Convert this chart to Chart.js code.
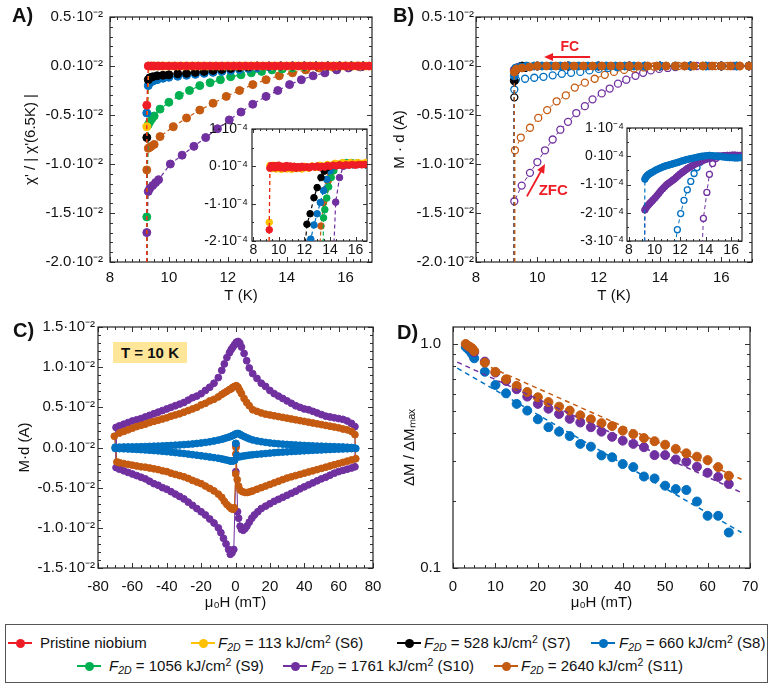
<!DOCTYPE html>
<html><head><meta charset="utf-8">
<script src="https://cdn.jsdelivr.net/npm/chart.js@4.4.1/dist/chart.umd.min.js"></script>
<style>
html,body{margin:0;padding:0;background:#fff}
body{width:774px;height:693px;position:relative;overflow:hidden;font-family:'Liberation Sans',Arial,sans-serif;color:#111}
canvas{position:absolute;display:block}
.pl{position:absolute;font-weight:bold;font-size:20px;line-height:20px}
#tbox{position:absolute;left:113px;top:342px;width:74px;height:21px;background:#ffe699;font-weight:bold;font-size:15px;line-height:21px;text-align:center}
#legend{position:absolute;left:5px;top:624px;width:763px;height:59px;border:1.5px solid #555;box-sizing:border-box}
.li{position:absolute;font-size:15px;line-height:18px;white-space:nowrap}
.li sub{font-size:70%;vertical-align:-0.25em;line-height:0}
.li sup{font-size:70%;vertical-align:0.45em;line-height:0}
.ll{position:absolute;height:2px}
.ld{position:absolute;width:9px;height:9px;border-radius:50%}
</style></head><body>
<canvas id="cA" width="387" height="320" style="left:0;top:0"></canvas>
<canvas id="cB" width="387" height="320" style="left:387px;top:0"></canvas>
<canvas id="cC" width="387" height="300" style="left:0;top:320px"></canvas>
<canvas id="cD" width="387" height="300" style="left:387px;top:320px"></canvas>
<canvas id="iA" width="185" height="142" style="left:195px;top:122px"></canvas>
<canvas id="iB" width="185" height="142" style="left:572px;top:121px"></canvas>
<div class="pl" style="left:12px;top:5px">A)</div>
<div class="pl" style="left:393px;top:5px">B)</div>
<div class="pl" style="left:13px;top:320px">C)</div>
<div class="pl" style="left:397px;top:322px">D)</div>
<div id="tbox">T = 10 K</div>
<div id="legend"></div>
<script>
// ---------------- DATA ----------------
// Panel A main: T (K), chi'/|chi'(6.5K)| in units of 10^-2
const aRed = [[9.22,-100],[9.25,-0.40],[9.3,0],[9.4,0],[9.5,0],[9.65,0],[9.8,0],[10.0,0],[10.2,0],[10.4,0],[10.6,0],[10.8,0],[11.0,0],[11.2,0],[11.4,0],[11.6,0],[11.8,0],[12.0,0],[12.2,0],[12.4,0],[12.6,0],[12.8,0],[13.0,0],[13.2,0],[13.4,0],[13.6,0],[13.8,0],[14.0,0],[14.2,0],[14.4,0],[14.6,0],[14.8,0],[15.0,0],[15.2,0],[15.4,0],[15.6,0],[15.8,0],[16.0,0],[16.2,0],[16.4,0],[16.6,0],[16.8,0]];
const aYellow = [[9.22,-100],[9.25,-0.62],[9.32,0],[9.45,0],[9.6,0],[9.75,0],[9.9,0],[10.1,0],[10.3,0],[10.5,0],[10.7,0],[10.9,0],[11.1,0],[11.3,0],[11.5,0],[11.7,0],[11.9,0],[12.1,0],[12.3,0],[12.5,0],[12.7,0],[12.9,0],[13.1,0],[13.3,0],[13.5,0],[13.7,0],[13.9,0],[14.1,0],[14.3,0],[14.5,0],[14.7,0],[14.9,0],[15.1,0],[15.3,0],[15.5,0],[15.7,0],[15.9,0],[16.1,0],[16.3,0],[16.5,0],[16.7,0],[16.9,0]];
const aBlack = [[9.22,-100],[9.25,-0.73],[9.3,-0.14],[9.35,-0.12],[9.45,-0.11],[9.6,-0.1],[9.8,-0.095],[10.0,-0.09],[10.3,-0.08],[10.6,-0.075],[10.9,-0.065],[11.2,-0.055],[11.5,-0.045],[11.8,-0.035],[12.1,-0.025],[12.4,-0.015],[12.7,-0.01],[13.0,0],[13.4,0],[13.8,0],[14.2,0],[14.6,0],[15.0,0],[15.4,0],[15.8,0],[16.2,0],[16.6,0],[16.9,0]];
const aBlue = [[9.22,-100],[9.25,-0.48],[9.3,-0.2],[9.35,-0.17],[9.45,-0.155],[9.6,-0.14],[9.8,-0.125],[10.0,-0.115],[10.3,-0.105],[10.6,-0.095],[10.9,-0.085],[11.2,-0.075],[11.5,-0.065],[11.8,-0.055],[12.1,-0.045],[12.4,-0.035],[12.7,-0.025],[13.0,-0.02],[13.4,-0.01],[13.8,0],[14.2,0],[14.6,0],[15.0,0],[15.4,0],[15.8,0],[16.2,0],[16.6,0],[16.9,0]];
const aGreen = [[9.22,-100],[9.25,-1.54],[9.3,-0.6],[9.35,-0.57],[9.42,-0.54],[9.5,-0.51],[9.7,-0.44],[10.0,-0.37],[10.35,-0.3],[10.7,-0.25],[11.05,-0.2],[11.4,-0.17],[11.75,-0.14],[12.1,-0.11],[12.45,-0.09],[12.8,-0.07],[13.15,-0.055],[13.5,-0.04],[13.85,-0.03],[14.2,-0.02],[14.6,-0.01],[15.0,0],[15.4,0],[15.8,0],[16.2,0],[16.6,0],[16.9,0]];
const aBrown = [[9.22,-100],[9.25,-1.06],[9.3,-0.84],[9.35,-0.83],[9.4,-0.82],[9.5,-0.8],[9.7,-0.72],[10.15,-0.62],[10.6,-0.53],[11.05,-0.45],[11.5,-0.38],[11.95,-0.31],[12.4,-0.25],[12.85,-0.19],[13.3,-0.14],[13.75,-0.1],[14.2,-0.07],[14.65,-0.04],[15.1,-0.02],[15.55,-0.01],[16.0,0],[16.45,0],[16.9,0]];
const aPurple = [[9.22,-100],[9.25,-1.7],[9.3,-1.28],[9.35,-1.25],[9.45,-1.22],[9.55,-1.19],[9.65,-1.16],[10.05,-1.0],[10.45,-0.91],[10.85,-0.82],[11.25,-0.73],[11.65,-0.64],[12.05,-0.55],[12.45,-0.47],[12.85,-0.39],[13.3,-0.31],[13.7,-0.25],[14.1,-0.19],[14.5,-0.14],[14.9,-0.1],[15.3,-0.07],[15.7,-0.04],[16.1,-0.02],[16.5,-0.01],[16.9,0]];
// Panel A inset: units of 10^-4
const iaRed = [[9.2,-5],[9.25,-1.7],[9.3,-0.05],[9.4,0.02],[9.5,-0.03],[9.6,0.01],[9.7,-0.04],[9.8,0.02],[9.9,-0.02],[10.0,0.03],[10.15,-0.04],[10.3,0.0],[10.45,-0.05],[10.6,0.02],[10.75,-0.03],[10.9,0.01],[11.05,-0.04],[11.2,0.0],[11.35,-0.05],[11.5,-0.01],[11.65,-0.04],[11.8,0.0],[12.0,-0.03],[12.2,-0.01],[12.4,-0.04],[12.6,0.0],[12.8,-0.02],[13.0,0.01],[13.2,-0.03],[13.4,0.0],[13.6,-0.02],[13.8,0.02],[14.0,0.0],[14.25,0.03],[14.5,0.01],[14.75,0.04],[15.0,0.02],[15.25,0.04],[15.5,0.03],[15.75,0.05],[16.0,0.03],[16.25,0.05],[16.5,0.04],[16.75,0.05]];
const iaYellow = [[9.2,-5],[9.25,-1.5],[9.3,0.02],[9.45,-0.06],[9.6,0.03],[9.8,-0.07],[10.0,0.02],[10.2,-0.08],[10.4,0.0],[10.6,-0.07],[10.8,-0.02],[11.0,-0.08],[11.2,0.0],[11.4,-0.06],[11.6,-0.02],[11.8,-0.07],[12.0,0.0],[12.3,-0.05],[12.6,0.01],[12.9,-0.03],[13.2,0.03],[13.5,0.0],[13.8,0.05],[14.1,0.03],[14.4,0.08],[14.7,0.06],[15.0,0.1],[15.3,0.07],[15.6,0.1],[15.9,0.08],[16.2,0.1],[16.5,0.08],[16.8,0.1]];
const iaBlack = [[11.95,-2.6],[12.2,-1.55],[12.45,-1.27],[12.75,-0.84],[13.0,-0.57],[13.3,-0.3],[13.55,-0.13],[13.8,-0.03],[14.1,0.02],[14.4,0.04],[14.8,0.05],[15.2,0.05],[15.6,0.06],[16.0,0.05],[16.4,0.06],[16.8,0.05]];
const iaBlue = [[12.35,-2.6],[12.5,-1.95],[12.75,-1.57],[13.0,-1.27],[13.25,-0.97],[13.5,-0.65],[13.75,-0.35],[14.0,-0.12],[14.3,0.0],[14.6,0.03],[15.0,0.04],[15.4,0.05],[15.8,0.04],[16.2,0.05],[16.8,0.04]];
const iaGreen = [[13.45,-2.6],[13.5,-1.38],[13.6,-1.16],[13.75,-0.85],[13.9,-0.55],[14.1,-0.3],[14.3,-0.12],[14.55,0.02],[14.9,0.08],[15.3,0.1],[15.7,0.1],[16.1,0.09],[16.8,0.08]];
const iaBrown = [[13.15,-2.6],[13.3,-1.6],[13.5,-0.97],[13.65,-0.62],[13.85,-0.4],[14.05,-0.2],[14.3,-0.05],[14.6,0.03],[15.0,0.06],[15.4,0.08],[15.8,0.08],[16.2,0.08],[16.8,0.07]];
const iaPurple = [[14.25,-2.6],[14.45,-0.96],[14.75,-0.3],[15.05,0.0],[15.4,0.04],[15.8,0.05],[16.2,0.05],[16.8,0.05]];
// Panel B main: T (K), M·d in units of 10^-2 A; FC = filled, ZFC = open
const bBrownFC = [[9.22,-100],[9.25,-0.06],[9.32,-0.03],[9.5,-0.02],[9.75,-0.01],[10.0,0],[10.3,0],[10.6,0],[10.9,0],[11.2,0],[11.5,0],[11.8,0],[12.1,0],[12.4,0],[12.7,0],[13.0,0],[13.3,0],[13.6,0],[13.9,0],[14.2,0],[14.5,0],[14.8,0],[15.1,0],[15.4,0],[15.7,0],[16.0,0],[16.3,0],[16.6,0],[16.9,0]];
const bBlueFC = [[9.22,-100],[9.25,-0.1],[9.3,-0.02],[9.45,-0.01],[9.65,0],[9.9,0],[10.15,0],[10.45,0],[10.75,0],[11.05,0],[11.35,0],[11.65,0],[11.95,0],[12.25,0],[12.55,0],[12.85,0],[13.15,0],[13.5,0],[14.0,0],[14.5,0],[15.0,0],[15.5,0],[16.0,0],[16.5,0],[16.9,0]];
const bBlackFC = [[9.22,-100],[9.25,-0.15],[9.3,-0.03],[9.5,0],[10.0,0],[11.0,0],[12.0,0],[13.0,0],[14.0,0],[15.0,0],[16.0,0],[16.9,0]];
const bPurpleFC = [[9.22,-100],[9.25,-0.04],[9.4,-0.01],[10.0,0],[11.0,0],[12.0,0],[13.0,0],[14.0,0],[15.0,0],[16.0,0],[16.9,0]];
const bBlackZFC = [[9.22,-100],[9.25,-0.32],[9.3,-0.05],[9.6,-0.02],[10.0,0],[11.0,0],[12.0,0],[13.0,0],[14.0,0],[15.0,0],[16.0,0],[16.9,0]];
const bBlueZFC = [[9.22,-100],[9.25,-0.24],[9.3,-0.14],[9.6,-0.13],[9.9,-0.12],[10.2,-0.11],[10.5,-0.095],[10.8,-0.08],[11.1,-0.07],[11.4,-0.06],[11.7,-0.045],[12.0,-0.03],[12.3,-0.02],[12.6,-0.01],[13.0,0],[13.5,0],[14.0,0],[14.5,0],[15.0,0],[15.5,0],[16.0,0],[16.5,0]];
const bBrownZFC = [[9.22,-100],[9.27,-0.86],[9.46,-0.73],[9.76,-0.63],[10.03,-0.53],[10.32,-0.45],[10.63,-0.36],[10.93,-0.3],[11.22,-0.22],[11.55,-0.17],[11.87,-0.13],[12.2,-0.09],[12.5,-0.06],[12.83,-0.04],[13.15,-0.025],[13.48,-0.015],[13.8,-0.005],[14.2,0],[14.6,0],[15.0,0],[15.4,0],[15.8,0],[16.2,0],[16.6,0]];
const bPurpleZFC = [[9.22,-100],[9.25,-1.38],[9.49,-1.22],[9.76,-1.09],[10.0,-0.98],[10.25,-0.86],[10.5,-0.75],[10.75,-0.65],[11.0,-0.57],[11.27,-0.48],[11.55,-0.41],[11.8,-0.34],[12.1,-0.28],[12.36,-0.23],[12.63,-0.18],[12.9,-0.14],[13.2,-0.1],[13.45,-0.07],[13.7,-0.045],[13.97,-0.03],[14.25,-0.02],[14.5,-0.01],[14.8,0],[15.2,0],[15.6,0],[16.0,0],[16.4,0]];
// Panel B inset: units of 10^-4 A
const ibBlueFC = [[9.2,-5],[9.25,-0.81],[9.33,-0.74],[9.42,-0.69],[9.52,-0.65],[9.62,-0.62],[9.72,-0.59],[9.85,-0.56],[10.0,-0.52],[10.15,-0.48],[10.3,-0.45],[10.45,-0.42],[10.6,-0.39],[10.75,-0.36],[10.9,-0.34],[11.05,-0.32],[11.2,-0.3],[11.35,-0.28],[11.5,-0.26],[11.65,-0.24],[11.8,-0.22],[11.95,-0.2],[12.13,-0.17],[12.3,-0.15],[12.5,-0.12],[12.7,-0.1],[12.9,-0.08],[13.1,-0.06],[13.3,-0.04],[13.5,-0.02],[13.7,0.0],[13.9,0.01],[14.1,0.02],[14.3,0.03],[14.5,0.02],[14.7,0.01],[14.9,0.0],[15.1,-0.01],[15.3,-0.02],[15.5,-0.03],[15.7,-0.04],[15.9,-0.05],[16.1,-0.05],[16.3,-0.06],[16.5,-0.06],[16.7,-0.05]];
const ibPurpleFC = [[9.2,-5],[9.25,-1.9],[9.35,-1.82],[9.45,-1.76],[9.55,-1.71],[9.65,-1.66],[9.78,-1.6],[9.9,-1.54],[10.05,-1.47],[10.2,-1.39],[10.35,-1.31],[10.5,-1.22],[10.65,-1.15],[10.8,-1.08],[10.95,-1.01],[11.1,-0.96],[11.25,-0.91],[11.4,-0.86],[11.55,-0.81],[11.7,-0.75],[11.85,-0.69],[12.0,-0.63],[12.15,-0.58],[12.3,-0.53],[12.45,-0.48],[12.6,-0.43],[12.75,-0.39],[12.9,-0.35],[13.05,-0.31],[13.2,-0.27],[13.35,-0.24],[13.5,-0.21],[13.7,-0.17],[13.9,-0.13],[14.1,-0.1],[14.3,-0.08],[14.5,-0.05],[14.7,-0.03],[14.9,-0.01],[15.1,0.0],[15.3,0.01],[15.5,0.02],[15.7,0.03],[15.9,0.03],[16.1,0.04],[16.3,0.04],[16.5,0.03],[16.7,0.03]];
const ibBlueZFC = [[11.5,-3.6],[11.79,-2.6],[12.05,-2.03],[12.31,-1.56],[12.57,-1.19],[12.84,-0.89],[13.1,-0.61],[13.33,-0.4],[13.57,-0.21],[13.9,-0.08],[14.2,-0.02],[14.5,0.0],[14.9,0.01],[15.3,0.0],[15.7,0.0],[16.1,-0.01],[16.5,0.0]];
const ibPurpleZFC = [[13.7,-3.6],[13.83,-2.2],[14.1,-1.28],[14.3,-0.64],[14.55,-0.26],[14.8,-0.08],[15.1,0.0],[15.5,0.02],[15.9,0.02],[16.3,0.02],[16.7,0.02]];
// Panel C: mu0H (mT), M·d in units of 10^-2 A (loop order)
const cBlue = [[0.2,0.05],[0.8,-0.1],[1.5,-0.115],[2.5,-0.115],[3.5,-0.11],[5,-0.105],[6.5,-0.1],[8,-0.095],[10,-0.09],[12.5,-0.085],[15,-0.08],[17.5,-0.075],[20,-0.07],[22.5,-0.065],[25,-0.06],[27.5,-0.057],[30,-0.054],[32.5,-0.05],[35,-0.047],[37.5,-0.044],[40,-0.041],[42.5,-0.038],[45,-0.035],[47.5,-0.032],[50,-0.03],[52.5,-0.027],[55,-0.025],[57.5,-0.022],[60,-0.02],[62.5,-0.018],[65,-0.016],[67.5,-0.014],[70,-0.012],
 [69,-0.005],[67.5,0.0],[65,0.003],[62.5,0.006],[60,0.008],[57.5,0.01],[55,0.012],[52.5,0.014],[50,0.016],[47.5,0.018],[45,0.02],[42.5,0.022],[40,0.025],[37.5,0.028],[35,0.031],[32.5,0.034],[30,0.038],[27.5,0.042],[25,0.046],[22.5,0.051],[20,0.057],[17.5,0.064],[15,0.072],[12.5,0.082],[10,0.094],[8,0.108],[6.5,0.122],[5,0.137],[3.5,0.152],[2.5,0.165],[1.5,0.175],[0.5,0.172],[-0.5,0.16],[-1.5,0.15],[-2.5,0.14],[-3.5,0.132],[-5,0.122],[-6.5,0.112],[-8,0.102],[-10,0.092],[-12.5,0.081],[-15,0.071],[-17.5,0.063],[-20,0.056],[-22.5,0.05],[-25,0.044],[-27.5,0.04],[-30,0.036],[-32.5,0.032],[-35,0.029],[-37.5,0.026],[-40,0.023],[-42.5,0.02],[-45,0.018],[-47.5,0.016],[-50,0.014],[-52.5,0.012],[-55,0.01],[-57.5,0.009],[-60,0.008],[-62.5,0.007],[-65,0.006],[-67.5,0.005],[-70,0.004],
 [-70,-0.012],[-67.5,-0.014],[-65,-0.016],[-62.5,-0.018],[-60,-0.021],[-57.5,-0.024],[-55,-0.027],[-52.5,-0.03],[-50,-0.034],[-47.5,-0.038],[-45,-0.042],[-42.5,-0.047],[-40,-0.052],[-37.5,-0.057],[-35,-0.063],[-32.5,-0.069],[-30,-0.075],[-27.5,-0.082],[-25,-0.089],[-22.5,-0.096],[-20,-0.103],[-17.5,-0.11],[-15,-0.118],[-12.5,-0.126],[-10,-0.134],[-8,-0.142],[-6.5,-0.15],[-5,-0.157],[-3.5,-0.165],[-2.5,-0.17],[-1.5,-0.168],[-0.5,-0.16],[0.2,0.05]];
const cBrown = [[0.3,0.0],[1.0,-0.4],[1.8,-0.48],[2.7,-0.53],[4,-0.55],[5.6,-0.56],[7,-0.56],[8.6,-0.55],[10,-0.54],[12.5,-0.52],[15,-0.5],[17.5,-0.48],[20,-0.46],[22.5,-0.44],[25,-0.42],[27.5,-0.4],[30,-0.38],[32.5,-0.365],[35,-0.35],[37.5,-0.335],[40,-0.32],[42.5,-0.305],[45,-0.29],[47.5,-0.275],[50,-0.26],[52.5,-0.245],[55,-0.23],[57.5,-0.215],[60,-0.2],[62.5,-0.185],[65,-0.17],[67.5,-0.155],[70,-0.14],
 [69.5,0.16],[67.5,0.2],[65,0.22],[62.5,0.23],[60,0.245],[57.5,0.255],[55,0.265],[52.5,0.275],[50,0.285],[47.5,0.295],[45,0.305],[42.5,0.315],[40,0.325],[37.5,0.335],[35,0.345],[32.5,0.355],[30,0.365],[27.5,0.375],[25,0.385],[22.5,0.395],[20,0.405],[17.5,0.415],[15,0.43],[12.5,0.45],[10,0.47],[8,0.52],[6.5,0.56],[5,0.61],[3.5,0.67],[2.5,0.71],[1.5,0.75],[0.5,0.77],[-0.5,0.76],[-1.5,0.75],[-2.5,0.73],[-3.5,0.72],[-5,0.7],[-6.5,0.68],[-8,0.66],[-10,0.63],[-12.5,0.6],[-15,0.58],[-17.5,0.55],[-20,0.53],[-22.5,0.5],[-25,0.48],[-27.5,0.46],[-30,0.44],[-32.5,0.42],[-35,0.405],[-37.5,0.39],[-40,0.37],[-42.5,0.355],[-45,0.34],[-47.5,0.325],[-50,0.31],[-52.5,0.29],[-55,0.275],[-57.5,0.26],[-60,0.24],[-62.5,0.22],[-65,0.2],[-67.5,0.18],[-70.5,0.14],
 [-69,-0.18],[-67.5,-0.19],[-65,-0.2],[-62.5,-0.21],[-60,-0.22],[-57.5,-0.23],[-55,-0.24],[-52.5,-0.245],[-50,-0.255],[-47.5,-0.265],[-45,-0.275],[-42.5,-0.29],[-40,-0.3],[-37.5,-0.32],[-35,-0.335],[-32.5,-0.35],[-30,-0.365],[-27.5,-0.385],[-25,-0.41],[-22.5,-0.43],[-20,-0.45],[-17.5,-0.48],[-15,-0.51],[-12.5,-0.54],[-10,-0.58],[-8,-0.62],[-6.5,-0.67],[-5,-0.71],[-3.5,-0.74],[-2.5,-0.76],[-1.5,-0.77],[-0.7,-0.75],[0.1,-0.33],[0.2,-0.08]];
const cPurple = [[0.3,0.02],[1.2,-0.8],[1.8,-0.88],[2.7,-0.98],[3.5,-1.02],[4.5,-1.03],[5.5,-1.01],[6.6,-0.98],[8,-0.93],[9.5,-0.88],[11,-0.84],[13,-0.8],[15,-0.76],[17.5,-0.73],[20,-0.7],[22.5,-0.67],[25,-0.645],[27.5,-0.62],[30,-0.595],[32.5,-0.57],[35,-0.545],[37.5,-0.515],[40,-0.49],[42.5,-0.465],[45,-0.44],[47.5,-0.415],[50,-0.39],[52.5,-0.37],[55,-0.345],[57.5,-0.32],[60,-0.3],[62.5,-0.285],[65,-0.27],[67.5,-0.255],[69.5,-0.24],
 [69.5,0.26],[67.5,0.3],[65,0.33],[62.5,0.35],[60,0.36],[57.5,0.37],[55,0.38],[52.5,0.39],[50,0.41],[47.5,0.43],[45,0.45],[42.5,0.47],[40,0.48],[37.5,0.5],[35,0.52],[32.5,0.55],[30,0.58],[27.5,0.61],[25,0.64],[22.5,0.67],[20,0.71],[17.5,0.76],[15,0.8],[12.5,0.86],[10,0.92],[8,0.99],[6.5,1.08],[5,1.17],[3.5,1.25],[2.5,1.3],[1.5,1.32],[0.5,1.31],[-0.5,1.28],[-1.5,1.25],[-2.5,1.22],[-3.5,1.18],[-5,1.12],[-6.5,1.04],[-8,0.96],[-10,0.87],[-12.5,0.8],[-15,0.75],[-17.5,0.71],[-20,0.67],[-22.5,0.64],[-25,0.62],[-27.5,0.59],[-30,0.56],[-32.5,0.54],[-35,0.52],[-37.5,0.5],[-40,0.48],[-42.5,0.46],[-45,0.44],[-47.5,0.42],[-50,0.4],[-52.5,0.38],[-55,0.36],[-57.5,0.345],[-60,0.33],[-62.5,0.31],[-65,0.29],[-67.5,0.27],[-69.5,0.25],
 [-69.5,-0.25],[-67.5,-0.27],[-65,-0.29],[-62.5,-0.31],[-60,-0.33],[-57.5,-0.35],[-55,-0.37],[-52.5,-0.39],[-50,-0.42],[-47.5,-0.45],[-45,-0.47],[-42.5,-0.5],[-40,-0.52],[-37.5,-0.55],[-35,-0.58],[-32.5,-0.61],[-30,-0.64],[-27.5,-0.68],[-25,-0.72],[-22.5,-0.76],[-20,-0.8],[-17.5,-0.84],[-15,-0.89],[-12.5,-0.94],[-10,-1.0],[-8.5,-1.06],[-7,-1.13],[-5.5,-1.2],[-4,-1.27],[-3,-1.33],[-2,-1.31],[-1,-1.27],[0.2,-0.3]];
// Panel D: mu0H (mT), ΔM/ΔMmax (log)
const dBrown = [[3.0,1.0],[3.5,0.98],[4.0,0.97],[4.5,0.955],[5.0,0.93],[7.5,0.825],[10,0.75],[12.5,0.695],[15,0.65],[17.5,0.61],[20,0.578],[22.5,0.55],[25,0.525],[27.5,0.504],[30,0.48],[32.5,0.461],[35,0.443],[37.5,0.43],[40,0.41],[42.5,0.396],[45,0.38],[47.5,0.368],[50,0.355],[52.5,0.34],[55,0.325],[57.5,0.314],[60,0.303],[62.5,0.282],[65,0.258]];
const dPurple = [[3.5,0.98],[4.0,0.965],[4.5,0.95],[5.0,0.92],[7.5,0.834],[10,0.745],[12.5,0.684],[15,0.628],[17.5,0.582],[20,0.54],[22.5,0.514],[25,0.487],[27.5,0.463],[30,0.446],[32.5,0.425],[35,0.406],[37.5,0.385],[40,0.37],[42.5,0.358],[45,0.346],[47.5,0.319],[50,0.319],[52.5,0.305],[55,0.298],[57.5,0.283],[60,0.266],[62.5,0.255],[65,0.237]];
const dBlue = [[3.0,0.97],[3.5,0.95],[4.0,0.93],[4.5,0.9],[5.0,0.863],[7.5,0.751],[10,0.656],[12.5,0.602],[15,0.54],[17.5,0.504],[20,0.461],[22.5,0.425],[25,0.406],[27.5,0.388],[30,0.358],[32.5,0.348],[35,0.318],[37.5,0.312],[40,0.291],[42.5,0.282],[45,0.256],[47.5,0.251],[50,0.233],[52.5,0.225],[55,0.223],[57.5,0.198],[60,0.171],[62.5,0.171],[65,0.144]];
const dFitBrown = [[7,0.815],[68,0.249]];
const dFitPurple = [[1,0.83],[68,0.217]];
const dFitBlue = [[1,0.78],[68,0.144]];
// Tick values
const tickTmain = [8,10,12,14,16];
const tickMmain = [-2,-1.5,-1,-0.5,0,0.5];
const tickTinset = [8,10,12,14,16];
const tickInsetA = [-2,-1,0,1];
const tickInsetB = [-3,-2,-1,0,1];
const tickHc = [-80,-60,-40,-20,0,20,40,60,80];
const tickMc = [-1.5,-1,-0.5,0,0.5,1,1.5];
const tickHd = [0,10,20,30,40,50,60,70];
const tickDM = [0.1,1];
const minorDM = [0.2,0.3,0.4,0.5,0.6,0.7,0.8,0.9];
// Legend
const legendColors = ['#ee1c25','#ffc000','#000000','#0070c0','#00b050','#7030a0','#c55a11'];
const legendFluence = [null,113,528,660,1056,1761,2640];
const legendSample = ['','S6','S7','S8','S9','S10','S11'];

// ---------------- RENDER ----------------
const FONT = "'Liberation Sans', Arial, sans-serif";
const TXT = '#111';
Chart.defaults.font.family = FONT;
Chart.defaults.color = TXT;
const COL = {red:'#ee1c25', yellow:'#ffc000', black:'#000000', blue:'#0070c0', green:'#00b050', purple:'#7030a0', brown:'#c55a11'};

const FRAME = {
  cA:{xStep:0.25,yStep:0.1}, cB:{xStep:0.25,yStep:0.1},
  cC:{xStep:5,yStep:0.1}, cD:{xStep:2.5,yList:minorDM},
  iA:{xStep:0.5,yStep:0.5,fill:'#fff',major:4,minor:2}, iB:{xStep:0.5,yStep:0.5,fill:'#fff',major:4,minor:2}
};
const frameTicks = {
  id:'frameTicks',
  beforeDraw(chart){
    const s = FRAME[chart.canvas.id]; if(!s||!s.fill) return;
    const a = chart.chartArea, c = chart.ctx;
    c.save(); c.fillStyle = s.fill; c.fillRect(a.left,a.top,a.right-a.left,a.bottom-a.top); c.restore();
  },
  beforeDatasetsDraw(chart){
    const s = FRAME[chart.canvas.id]; if(!s) return;
    const {ctx, chartArea:a, scales:{x,y}} = chart;
    const MJ = s.major||5, MN = s.minor||3;
    const xm = x.ticks.map(t=>t.value), ym = y.ticks.map(t=>t.value);
    const isM = (arr,v)=>arr.some(m=>Math.abs(m-v)<1e-6*Math.max(1,Math.abs(m)));
    const seq = (lo,hi,st)=>{const r=[];for(let k=Math.ceil(lo/st-1e-9);k*st<=hi+1e-9;k++)r.push(+(k*st).toFixed(6));return r;};
    const xs = seq(x.min,x.max,s.xStep);
    const ys = s.yList ? ym.concat(s.yList) : seq(y.min,y.max,s.yStep);
    ctx.save();
    ctx.strokeStyle = '#333'; ctx.lineWidth = 1;
    ctx.beginPath();
    xs.forEach(v=>{const p=Math.round(x.getPixelForValue(v))+0.5;const L=isM(xm,v)?MJ:MN;
      ctx.moveTo(p,a.bottom);ctx.lineTo(p,a.bottom-L);ctx.moveTo(p,a.top);ctx.lineTo(p,a.top+L);});
    ys.forEach(v=>{const p=Math.round(y.getPixelForValue(v))+0.5;const L=isM(ym,v)?MJ:MN;
      ctx.moveTo(a.left,p);ctx.lineTo(a.left+L,p);ctx.moveTo(a.right,p);ctx.lineTo(a.right-L,p);});
    ctx.stroke();
    ctx.lineWidth = 1.2; ctx.strokeStyle = '#222';
    ctx.strokeRect(a.left,a.top,a.right-a.left,a.bottom-a.top);
    ctx.restore();
  }
};
Chart.register(frameTicks);

function xAx(o){
  return {type:'linear',position:'bottom',min:o.min,max:o.max,
    afterBuildTicks:s=>{s.ticks=o.ticks.map(v=>({value:v}));},
    afterFit:s=>{s.height=o.h;s.paddingLeft=0;s.paddingRight=0;},
    grid:{display:false,drawTicks:false},border:{display:false},
    ticks:{padding:o.pad,font:{size:o.size||15},color:TXT,autoSkip:false,maxRotation:0,callback:v=>String(v)},
    title:o.title?{display:true,text:o.title,color:TXT,font:{size:15},padding:{top:0,bottom:o.tpad}}:{display:false}};
}
function yAx(o){
  return {type:o.type||'linear',position:'left',min:o.min,max:o.max,
    afterBuildTicks:s=>{s.ticks=o.ticks.map(v=>({value:v}));},
    afterFit:s=>{s.width=o.w;s.paddingTop=0;s.paddingBottom=0;},
    grid:{display:false,drawTicks:false},border:{display:false},
    ticks:{padding:o.pad,font:{size:o.size||15},color:TXT,autoSkip:false,callback:o.fmt},
    title:o.title?{display:true,text:o.title,color:TXT,font:{size:15},padding:{top:o.tpad,bottom:0}}:{display:false}};
}
function opts(pad,x,y){
  return {responsive:false,animation:false,devicePixelRatio:1,events:[],
    layout:{padding:pad},scales:{x,y},
    plugins:{legend:{display:false},tooltip:{enabled:false}}};
}
function ds(data,color,o){
  return Object.assign({data:data.map(([x,y])=>({x,y})),showLine:true,borderColor:color,backgroundColor:color,
    pointBackgroundColor:color,pointBorderColor:color,pointRadius:4,pointHoverRadius:4,pointBorderWidth:1,
    borderWidth:1.2,borderDash:[4,3],tension:0},o||{});
}
const open = (data,color,r)=>ds(data,color,{pointBackgroundColor:'#fff',pointRadius:r||3.5,pointBorderWidth:1.3,borderWidth:1});
const f2 = v=>v.toFixed(1)+'·10⁻²';
const f4 = v=>v+'·10⁻⁴';

// A main
new Chart(document.getElementById('cA'),{type:'scatter',
  data:{datasets:[ds(aRed,COL.red),ds(aYellow,COL.yellow),ds(aBlack,COL.black),ds(aBlue,COL.blue),ds(aGreen,COL.green),ds(aBrown,COL.brown),ds(aPurple,COL.purple)]},
  options:opts({left:0,top:17,right:15,bottom:0},
    xAx({min:8,max:16.9,ticks:tickTmain,h:58,pad:7,title:'T (K)',tpad:15}),
    yAx({min:-2,max:0.5,ticks:tickMmain,w:110,pad:7,fmt:f2,title:"χ' / | χ'(6.5K) |",tpad:22}))});

// A inset
const si = {pointRadius:3.3,pointHoverRadius:3.3};
new Chart(document.getElementById('iA'),{type:'scatter',
  data:{datasets:[ds(iaRed,COL.red,si),ds(iaYellow,COL.yellow,si),ds(iaBlack,COL.black,si),ds(iaBlue,COL.blue,si),ds(iaGreen,COL.green,si),ds(iaBrown,COL.brown,si),ds(iaPurple,COL.purple,si)]},
  options:opts({left:0,top:7,right:13,bottom:0},
    xAx({min:7.9,max:16.9,ticks:tickTinset,h:23,pad:1,size:14}),
    yAx({min:-2,max:1,ticks:tickInsetA,w:57,pad:4,size:14,fmt:f4}))});

// B main
const annB = {fcText:[11.06,0.19],fcFrom:[11.72,0.092],fcTo:[10.22,0.092],zfcText:[10.52,-1.27],zfcFrom:[9.66,-1.33],zfcTo:[10.25,-1.0]};
const annPlugin = {id:'annB',afterDatasetsDraw(chart){
  const {ctx,scales:{x,y}} = chart;
  const P = p=>[x.getPixelForValue(p[0]),y.getPixelForValue(p[1])];
  const arrow=(a,b)=>{const [x1,y1]=P(a),[x2,y2]=P(b);const g=Math.atan2(y2-y1,x2-x1),c=Math.cos(g),s=Math.sin(g);
    ctx.beginPath();ctx.moveTo(x1,y1);ctx.lineTo(x2-6*c,y2-6*s);ctx.stroke();
    ctx.beginPath();ctx.moveTo(x2,y2);ctx.lineTo(x2-9*c+4*s,y2-9*s-4*c);ctx.lineTo(x2-9*c-4*s,y2-9*s+4*c);ctx.closePath();ctx.fill();};
  ctx.save();ctx.strokeStyle=ctx.fillStyle='#ee1c25';ctx.lineWidth=1.8;
  arrow(annB.fcFrom,annB.fcTo);arrow(annB.zfcFrom,annB.zfcTo);
  ctx.textAlign='center';ctx.textBaseline='middle';
  ctx.font='bold 14px '+FONT;let p=P(annB.fcText);ctx.fillText('FC',p[0],p[1]);
  ctx.font='bold 15px '+FONT;p=P(annB.zfcText);ctx.fillText('ZFC',p[0],p[1]);
  ctx.restore();}};
new Chart(document.getElementById('cB'),{type:'scatter',
  data:{datasets:[ds(bBrownFC,COL.brown),ds(bBlueFC,COL.blue),ds(bBlackFC,COL.black),ds(bPurpleFC,COL.purple),
    open(bBlackZFC,COL.black),open(bBlueZFC,COL.blue),open(bBrownZFC,COL.brown),open(bPurpleZFC,COL.purple)]},
  options:opts({left:0,top:17,right:22,bottom:0},
    xAx({min:8,max:17,ticks:tickTmain,h:58,pad:7,title:'T (K)',tpad:15}),
    yAx({min:-2,max:0.5,ticks:tickMmain,w:89,pad:2,fmt:f2,title:'M · d (A)',tpad:4})),
  plugins:[annPlugin]});

// B inset
new Chart(document.getElementById('iB'),{type:'scatter',
  data:{datasets:[ds(ibBlueFC,COL.blue,si),ds(ibPurpleFC,COL.purple,si),open(ibBlueZFC,COL.blue,3),open(ibPurpleZFC,COL.purple,3)]},
  options:opts({left:0,top:7,right:15,bottom:0},
    xAx({min:7.85,max:16.85,ticks:tickTinset,h:22,pad:1,size:14}),
    yAx({min:-3,max:1,ticks:tickInsetB,w:55,pad:3,size:14,fmt:f4}))});

// C
const sc = {borderDash:[],borderWidth:1,pointRadius:3.4,pointHoverRadius:3.4};
new Chart(document.getElementById('cC'),{type:'scatter',
  data:{datasets:[ds(cBlue,COL.blue,sc),ds(cBrown,COL.brown,sc),ds(cPurple,COL.purple,sc)]},
  options:opts({left:0,top:7,right:14,bottom:0},
    xAx({min:-80,max:80,ticks:tickHc,h:52,pad:10,title:'μ₀H (mT)',tpad:8}),
    yAx({min:-1.5,max:1.5,ticks:tickMc,w:98,pad:3,fmt:f2,title:'M·d (A)',tpad:16}))});

// D
const sd = {showLine:false,pointRadius:4.5,pointHoverRadius:4.5};
const fl = {pointRadius:0,pointHoverRadius:0,borderWidth:1.5,borderDash:[5,4]};
new Chart(document.getElementById('cD'),{type:'scatter',
  data:{datasets:[ds(dFitBrown,COL.brown,fl),ds(dFitPurple,COL.purple,fl),ds(dFitBlue,COL.blue,fl),
    ds(dBrown,COL.brown,sd),ds(dPurple,COL.purple,sd),ds(dBlue,COL.blue,sd)]},
  options:opts({left:0,top:7,right:24,bottom:0},
    xAx({min:0,max:70,ticks:tickHd,h:52,pad:10,title:'μ₀H (mT)',tpad:8}),
    yAx({type:'logarithmic',min:0.1,max:1.19,ticks:tickDM,w:66,pad:12,fmt:v=>v.toFixed(1),title:'ΔM / ΔMₘₐₓ',tpad:14}))});

// Legend
const legPos = [[20,40,643],[203,218,643],[409,424,643],[603,619,643],[89,109,666],[295,311,666],[506,521,666]];
legendColors.forEach((c,i)=>{
  const [dx,tx,cy] = legPos[i];
  const l = document.createElement('div'); l.className='ll';
  l.style.cssText = `left:${dx-12}px;top:${cy-1}px;width:24px;background:${c}`; document.body.appendChild(l);
  const d = document.createElement('div'); d.className='ld';
  d.style.cssText = `left:${dx-4.5}px;top:${cy-4.5}px;background:${c}`; document.body.appendChild(d);
  const t = document.createElement('div'); t.className='li';
  t.style.cssText = `left:${tx}px;top:${cy-9}px`;
  t.innerHTML = legendFluence[i]===null ? 'Pristine niobium'
    : `<i>F</i><sub><i>2D</i></sub> = ${legendFluence[i]} kJ/cm<sup>2</sup> (${legendSample[i]})`;
  document.body.appendChild(t);
});
</script>
</body></html>
